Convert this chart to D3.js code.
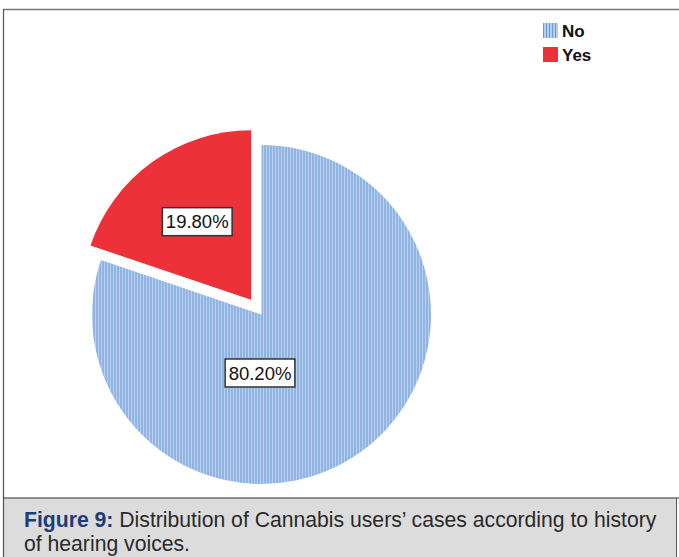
<!DOCTYPE html>
<html><head><meta charset="utf-8">
<script src="https://cdn.jsdelivr.net/npm/d3@7"></script>
<style>html,body{margin:0;padding:0;background:#fff;overflow:hidden}</style>
</head><body>
<script>
const categories = ["No", "Yes"];
const values = [80.2, 19.8];
const valueLabels = ["80.20%", "19.80%"];
const captionBold = "Figure 9:";
const captionLine1 = " Distribution of Cannabis users\u2019 cases according to history";
const captionLine2 = "of hearing voices.";

const W = 679, H = 557;
const svg = d3.select("body").append("svg").attr("width", W).attr("height", H);

// pattern
const defs = svg.append("defs");
const pat = defs.append("pattern").attr("id", "stripes").attr("patternUnits", "userSpaceOnUse")
  .attr("width", 3).attr("height", 10);
pat.append("rect").attr("width", 3).attr("height", 10).attr("fill", "#b6cff0");
pat.append("rect").attr("width", 1).attr("height", 10).attr("fill", "#6d98d2");

const colors = d3.scaleOrdinal().domain(categories).range(["url(#stripes)", "#ec3139"]);

// frame
svg.append("rect").attr("x", 3).attr("y", 498).attr("width", 673).attr("height", 59).attr("fill", "#dcdcdc");
svg.append("line").attr("x1", 3).attr("x2", W).attr("y1", 9.5).attr("y2", 9.5).attr("stroke", "#7a7a7a").attr("stroke-width", 1.5);
svg.append("line").attr("x1", 3.5).attr("x2", 3.5).attr("y1", 9).attr("y2", H).attr("stroke", "#555").attr("stroke-width", 1.2);
svg.append("line").attr("x1", 3).attr("x2", W).attr("y1", 498).attr("y2", 498).attr("stroke", "#333").attr("stroke-width", 1.2);
svg.append("line").attr("x1", 676.5).attr("x2", 676.5).attr("y1", 498).attr("y2", H).attr("stroke", "#555").attr("stroke-width", 1);

// pie
const cx = 261.5, cy = 314.5, r = 169.5, explode = 18;
const pie = d3.pie().sort(null).value(d => d.v);
const data = pie(categories.map((c, i) => ({c, v: values[i], label: valueLabels[i]})));
const arc = d3.arc().innerRadius(0).outerRadius(r);
const g = svg.append("g").attr("transform", `translate(${cx},${cy})`);

function offsetOf(d) {
  if (d.data.c !== "Yes") return [0, 0];
  const a = (d.startAngle + d.endAngle) / 2;
  return [explode * Math.sin(a), -explode * Math.cos(a)];
}
g.selectAll("path.slice").data(data).join("path").attr("class", "slice")
  .attr("d", arc).attr("fill", d => colors(d.data.c))
  .attr("transform", d => { const o = offsetOf(d); return `translate(${o[0]},${o[1]})`; });

// labels
const labelPos = {
  "Yes": d => { const o = offsetOf(d); const a = (d.startAngle + d.endAngle) / 2; const k = 0.575 * r;
    return [o[0] + k * Math.sin(a) + 3, o[1] - k * Math.cos(a) + 1]; },
  "No": d => [-1.5, 0.345 * r]
};
data.forEach(d => {
  const p = labelPos[d.data.c](d);
  const lg = g.append("g").attr("transform", `translate(${p[0]},${p[1]})`);
  const t = lg.append("text").attr("text-anchor", "middle").attr("dy", "0.36em")
    .attr("font-family", "Liberation Sans, Arial, sans-serif").attr("font-size", 18.5).attr("fill", "#111")
    .text(d.data.label);
  const w = t.node().getComputedTextLength();
  lg.insert("rect", "text").attr("x", -w / 2 - 3.5).attr("y", -14).attr("width", w + 7).attr("height", 28)
    .attr("fill", "#fff").attr("stroke", "#333").attr("stroke-width", 1.5);
});

// legend
const lg = svg.append("g").attr("transform", "translate(543,23)");
categories.forEach((c, i) => {
  const row = lg.append("g").attr("transform", `translate(0,${i * 24})`);
  row.append("rect").attr("width", 15).attr("height", 15).attr("fill", colors(c));
  row.append("text").attr("x", 19).attr("y", 14).attr("font-family", "Liberation Sans, Arial, sans-serif")
    .attr("font-weight", "bold").attr("font-size", 17).attr("fill", "#111").text(c);
});

// caption
const cap = svg.append("g");
const capFont = "Liberation Sans Narrow, Arial Narrow, Liberation Sans, Arial, sans-serif";
function capLine(y, parts, target) {
  const t = cap.append("text").attr("font-family", capFont).attr("font-size", 21.5);
  parts.forEach(p => t.append("tspan").attr("fill", p.color).attr("font-weight", p.bold ? "bold" : "normal").text(p.text));
  const w = t.node().getComputedTextLength();
  const s = target ? target / w : 1;
  t.attr("transform", `translate(24,${y}) scale(${s},1)`);
  return s;
}
const s1 = capLine(527, [{text: captionBold, color: "#1b3d78", bold: true}, {text: captionLine1, color: "#2a2a2a"}], 633);
cap.append("text").attr("font-family", capFont)
  .attr("font-size", 21.5).attr("fill", "#2a2a2a").attr("transform", `translate(24,551) scale(${s1},1)`).text(captionLine2);
</script>
</body></html>
